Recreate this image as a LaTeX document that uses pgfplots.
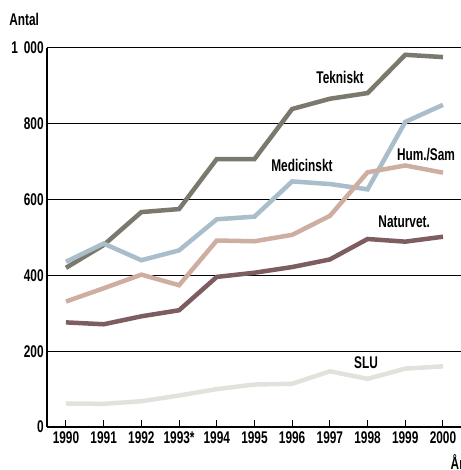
\documentclass[border=0pt]{standalone}
\usepackage{fontspec}
\setmainfont{Liberation Sans}[FakeStretch=0.7]
\usepackage{pgfplots}
\pgfplotsset{compat=1.18}
\definecolor{tekc}{HTML}{7B786E}
\definecolor{medc}{HTML}{A9BDCA}
\definecolor{humc}{HTML}{CFAEA2}
\definecolor{natc}{HTML}{7E5D61}
\definecolor{sluc}{HTML}{E2E2DC}
\newcommand{\lbl}{\fontsize{17}{17}\selectfont\bfseries}

\begin{document}
\begin{tikzpicture}
\begin{axis}[
    x=37.7bp, y=0.379bp,
    xmin=1989.5, xmax=2000.47, ymin=0, ymax=1000,
    axis x line*=bottom, axis y line*=left,
    axis line style={line width=1.5bp, -},
    xtick={1990,...,2000},
    xticklabels={1990,1991,1992,1993*,1994,1995,1996,1997,1998,1999,2000},
    ytick={0,200,...,1000},
    yticklabels={0,200,400,600,800,1\hspace{0.35em}000},
    ymajorgrids, grid style={black, line width=1bp},
    tick align=inside, major tick length=7bp,
    x tick style={black, line width=1bp},
    y tick style={draw=none},
    ticklabel style={font=\lbl},
    xticklabel style={yshift=-1bp},
    clip=false,
    every axis plot/.append style={line width=4.5bp, no marks},
]
\addplot[tekc] coordinates {(1990,420) (1991,480) (1992,567) (1993,575) (1994,707) (1995,707) (1996,839) (1997,866) (1998,881) (1999,982) (2000,976)};
\addplot[medc] coordinates {(1990,436) (1991,484) (1992,440) (1993,466) (1994,548) (1995,555) (1996,648) (1997,641) (1998,627) (1999,805) (2000,850)};
\addplot[humc] coordinates {(1990,331) (1991,366) (1992,402) (1993,374) (1994,492) (1995,490) (1996,507) (1997,557) (1998,672) (1999,690) (2000,671)};
\addplot[natc] coordinates {(1990,276) (1991,271) (1992,292) (1993,308) (1994,396) (1995,407) (1996,422) (1997,442) (1998,496) (1999,489) (2000,502)};
\addplot[sluc] coordinates {(1990,62) (1991,61) (1992,68) (1993,83) (1994,100) (1995,112) (1996,114) (1997,147) (1998,127) (1999,154) (2000,160)};
\node[font=\lbl] at (axis cs:1997.27,923) {Tekniskt};
\node[font=\lbl] at (axis cs:1996.26,689) {Medicinskt};
\node[font=\lbl] at (axis cs:1999.55,720) {Hum./Sam};
\node[font=\lbl] at (axis cs:1998.97,541) {Naturvet.};
\node[font=\lbl] at (axis cs:1997.96,169) {SLU};
\node[font=\lbl] at (axis cs:1988.89,1074) {Antal};
\node[font=\lbl, anchor=west, inner sep=0pt] at (axis cs:2000.2,-92) {År};
\coordinate (bl) at (axis cs:1988.25,-113.5);
\coordinate (tr) at (axis cs:2000.47,1126.6);
\end{axis}
\pgfresetboundingbox
\path[use as bounding box] (bl) rectangle (tr);
\end{tikzpicture}
\end{document}
